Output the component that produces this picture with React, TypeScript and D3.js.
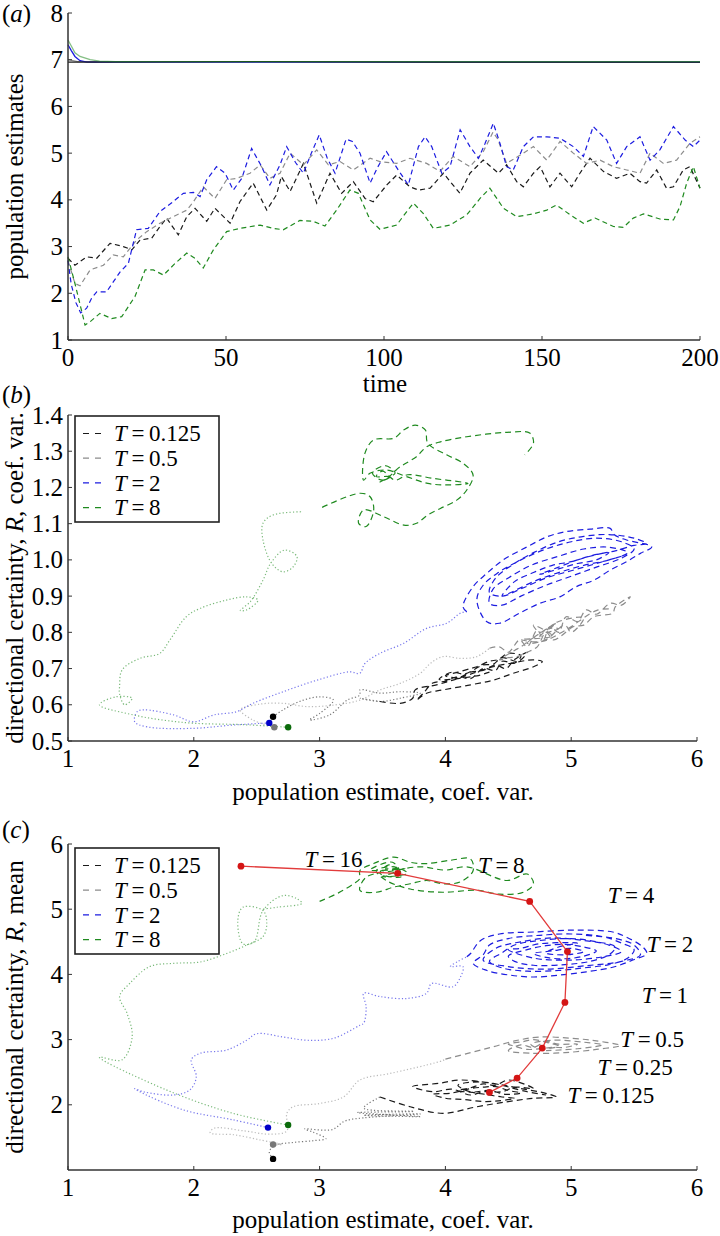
import React from 'react';
import * as d3 from 'd3';

type P = [number, number];

// ---- panel (a): population estimates vs time ----
const aTicksX = [0, 50, 100, 150, 200];
const aTicksY = [1, 2, 3, 4, 5, 6, 7, 8];

const aSolidBlack: P[] = [[0, 6.95], [60, 6.96], [120, 6.95], [200, 6.95]];
const aSolidGray: P[] = [[0, 7.0], [3, 6.96], [200, 6.95]];
const aSolidBlue: P[] = [[0, 7.32], [1, 7.2], [2.2, 7.07], [3.8, 6.98], [6, 6.95], [200, 6.95]];
const aSolidGreen: P[] = [[0, 7.42], [1, 7.3], [2.2, 7.15], [3.8, 7.07], [7, 7.0], [10, 6.97], [15, 6.96], [200, 6.96]];

const aBlack: P[] = [[0, 2.75], [2.2, 2.6], [5.9, 2.78], [9.1, 2.75], [13.3, 3.07], [17.5, 3.0], [20.2, 2.93], [22.8, 3.14], [26.5, 3.18], [29.1, 3.43], [31.2, 3.61], [34.9, 3.25], [37.6, 3.64], [40.2, 3.82], [43.9, 3.54], [46.5, 3.82], [51.3, 3.5], [54.4, 3.96], [58.6, 4.36], [62.9, 3.78], [66, 4.11], [67.5, 4.5], [70.3, 4.18], [74.5, 4.78], [78.7, 3.93], [82.9, 4.57], [86.6, 4.14], [90.3, 4.39], [94, 4.03], [96.6, 3.96], [100.9, 4.32], [104, 4.53], [108.2, 4.28], [110.9, 4.21], [114.6, 4.25], [118.8, 4.57], [124, 4.14], [127.2, 4.57], [131.4, 4.85], [136.2, 4.57], [138.8, 4.75], [142, 4.39], [144.1, 4.28], [147.3, 4.57], [149.4, 4.71], [152.5, 4.28], [155.7, 4.57], [159.4, 4.28], [162, 4.57], [165.2, 4.89], [169.4, 4.61], [173.6, 4.46], [177.8, 4.57], [181, 4.39], [183.1, 4.36], [186.3, 4.64], [189.4, 4.25], [191.6, 4.28], [194.7, 4.64], [196.8, 4.71], [200, 4.25]];
const aGray: P[] = [[0, 2.7], [2.2, 2.21], [3.8, 2.16], [7, 2.5], [11.2, 2.6], [14.3, 2.82], [17.5, 2.78], [21.7, 3.14], [24.9, 3.32], [29.1, 3.5], [33.3, 3.64], [37.6, 3.78], [39.7, 3.96], [42.8, 4.28], [46.5, 4.03], [50.2, 4.43], [53.4, 4.46], [57.6, 4.57], [60.8, 4.75], [63.9, 4.46], [67.1, 4.57], [70.3, 5.0], [74.5, 4.75], [78.7, 5.07], [82.4, 4.75], [86.1, 4.82], [90.3, 4.64], [95.6, 4.89], [98.7, 4.82], [104, 4.78], [108.2, 4.89], [113.5, 4.78], [117.7, 4.61], [121.9, 4.93], [127.2, 4.71], [131.4, 5.03], [134.5, 5.45], [136, 5.3], [138.8, 4.78], [144.1, 5.0], [147.3, 5.14], [151.5, 4.85], [155.7, 5.25], [159.9, 5.0], [164.1, 4.78], [168.4, 4.85], [172.6, 4.71], [176.8, 4.64], [181, 4.57], [184.2, 5.0], [188.4, 4.78], [192.6, 4.85], [196.8, 5.21], [200, 5.35]];
const aBlue: P[] = [[0, 2.7], [1, 2.2], [2.5, 1.8], [4, 1.58], [5.9, 1.68], [7.5, 1.9], [9.1, 2.03], [12.2, 2.03], [16.5, 2.46], [19.1, 2.64], [21.7, 3.36], [25.4, 3.39], [29.1, 3.75], [32.3, 3.91], [36.5, 4.14], [39.7, 4.16], [41.8, 4.07], [43.9, 4.43], [47, 4.71], [49.7, 4.57], [52.3, 4.21], [55, 4.46], [58.1, 5.1], [61.3, 4.71], [63.9, 4.32], [67.1, 4.75], [69.2, 5.14], [72, 4.8], [74.5, 4.57], [77, 5.0], [79.5, 5.39], [82, 4.9], [84.5, 4.57], [88, 5.3], [90, 5.25], [92.4, 5.0], [95.6, 4.36], [98, 4.7], [100.8, 5.03], [104.5, 4.64], [107.7, 4.32], [110.9, 5.14], [113, 5.35], [115.1, 5.14], [118.3, 4.57], [120.9, 4.71], [124.1, 5.5], [127.2, 5.14], [129.9, 4.89], [132, 5.21], [134.6, 5.64], [136.7, 5.21], [138.8, 4.71], [140.9, 4.64], [144.1, 5.14], [147.3, 5.35], [151.5, 5.35], [155.7, 5.32], [159.9, 5.14], [163.1, 4.93], [166.2, 5.57], [170.5, 5.28], [173.6, 4.78], [176.8, 5.14], [181, 5.35], [184.2, 4.85], [187.3, 5.07], [191.6, 5.57], [195.3, 5.28], [197.9, 5.14], [200, 5.28]];
const aGreen: P[] = [[0, 2.78], [2.2, 2.21], [5.4, 1.32], [7, 1.39], [10.1, 1.57], [13.8, 1.46], [17, 1.5], [21.2, 1.93], [24.4, 2.5], [27, 2.5], [30.2, 2.39], [33.9, 2.64], [37.6, 2.86], [40.2, 2.75], [42.8, 2.54], [46, 2.93], [50.2, 3.32], [54.4, 3.39], [60.8, 3.46], [65, 3.39], [68.1, 3.36], [73.4, 3.56], [77.6, 3.54], [81.3, 3.44], [85, 3.78], [89.2, 4.21], [91.9, 4.14], [95.6, 3.57], [98.7, 3.37], [104, 3.46], [107.2, 3.75], [109.3, 3.93], [112.4, 3.71], [115.6, 3.39], [120.9, 3.46], [126.2, 3.68], [130.4, 4.03], [133.5, 4.25], [137.8, 3.82], [142, 3.64], [147.3, 3.7], [151.5, 3.78], [154.6, 3.89], [158.9, 3.68], [163.1, 3.5], [166.8, 3.61], [172.6, 3.43], [175.7, 3.41], [178.9, 3.61], [182.1, 3.7], [187.3, 3.59], [191.6, 3.57], [193.7, 3.86], [195.8, 4.36], [197.9, 4.71], [200, 4.25]];

// ---- panel (b): coefficient of variation trajectories ----
const bTicksX = [1, 2, 3, 4, 5, 6];
const bTicksY = [0.5, 0.6, 0.7, 0.8, 0.9, 1.0, 1.1, 1.2, 1.3, 1.4];
const bStart: P[] = [[2.63, 0.567], [2.64, 0.538], [2.60, 0.55], [2.75, 0.538]]; // black, gray, blue, green

const bBlackDotted: P[] = [[2.63, 0.567], [2.71, 0.586], [2.84, 0.609], [3.0, 0.622], [3.11, 0.613], [3.0, 0.576], [2.92, 0.558], [3.08, 0.572], [3.22, 0.613], [3.32, 0.627], [3.32, 0.641], [3.48, 0.632], [3.64, 0.636], [3.8, 0.632], [3.64, 0.618], [3.48, 0.609], [3.32, 0.618], [3.48, 0.609]];
const bBlackDashed: P[] = [[3.48, 0.609], [3.64, 0.604], [3.74, 0.618], [3.76, 0.641], [3.93, 0.655], [4.06, 0.668], [4.22, 0.687], [4.38, 0.705], [4.51, 0.714], [4.7, 0.724], [4.77, 0.719], [4.7, 0.705], [4.54, 0.687], [4.38, 0.668], [4.2, 0.655], [3.98, 0.641], [3.85, 0.632], [3.77, 0.613], [3.82, 0.63], [3.9, 0.66], [4.0, 0.665], [4.1, 0.678], [4.2, 0.672], [4.3, 0.7], [4.4, 0.695], [4.45, 0.72], [4.55, 0.715], [4.6, 0.735], [4.5, 0.742], [4.42, 0.725], [4.35, 0.72], [4.25, 0.705], [4.2, 0.7], [4.1, 0.69], [4.0, 0.68], [4.1, 0.675], [4.2, 0.69], [4.3, 0.695], [4.4, 0.71], [4.48, 0.7], [4.55, 0.725], [4.65, 0.745], [4.58, 0.72], [4.45, 0.73], [4.38, 0.712], [4.3, 0.71], [4.15, 0.685], [4.05, 0.69], [3.95, 0.67], [4.25, 0.68], [4.35, 0.69]];
const bGrayDotted: P[] = [[2.64, 0.538], [2.47, 0.558], [2.37, 0.586], [2.53, 0.602], [2.71, 0.604], [2.9, 0.595], [3.11, 0.599], [3.32, 0.613], [3.48, 0.641], [3.64, 0.659], [3.8, 0.687], [3.88, 0.714], [3.98, 0.733], [4.12, 0.728], [4.25, 0.733], [4.35, 0.756]];
const bGrayDashed: P[] = [[4.35, 0.756], [4.43, 0.76], [4.5, 0.745], [4.59, 0.779], [4.65, 0.76], [4.73, 0.806], [4.78, 0.78], [4.83, 0.816], [4.9, 0.8], [4.96, 0.843], [5.05, 0.83], [5.12, 0.862], [5.2, 0.85], [5.31, 0.88], [5.4, 0.875], [5.47, 0.898], [5.35, 0.87], [5.33, 0.853], [5.18, 0.843], [5.1, 0.82], [5.02, 0.816], [4.92, 0.79], [4.86, 0.779], [4.8, 0.8], [4.73, 0.76], [4.65, 0.745], [4.57, 0.733], [4.5, 0.73], [4.43, 0.724], [4.55, 0.75], [4.6, 0.76], [4.7, 0.785], [4.75, 0.79], [4.82, 0.81], [4.9, 0.81], [4.8, 0.8], [4.88, 0.825], [4.65, 0.77], [4.8, 0.78], [4.95, 0.82], [5.0, 0.8], [5.1, 0.84], [4.9, 0.83], [4.75, 0.8], [4.7, 0.82], [4.85, 0.79], [4.6, 0.78], [4.77, 0.775], [4.95, 0.805], [5.2, 0.86], [5.3, 0.865]];
const bBlueDotted: P[] = [[2.6, 0.55], [2.31, 0.544], [2.0, 0.535], [1.63, 0.539], [1.53, 0.553], [1.55, 0.581], [1.6, 0.586], [1.84, 0.572], [2.0, 0.553], [2.16, 0.572], [2.34, 0.581], [2.47, 0.604], [2.71, 0.636], [2.98, 0.668], [3.24, 0.691], [3.32, 0.687], [3.36, 0.714], [3.48, 0.742], [3.67, 0.77], [3.85, 0.811], [4.01, 0.825], [4.12, 0.853], [4.17, 0.857]];
const bBlueDashed: P[] = [[4.17, 0.857], [4.14, 0.871], [4.22, 0.926], [4.33, 0.963], [4.46, 1.0], [4.65, 1.036], [4.81, 1.064], [4.96, 1.078], [5.15, 1.085], [5.31, 1.087], [5.34, 1.07], [5.44, 1.055], [5.64, 1.036], [5.55, 1.018], [5.44, 0.995], [5.31, 0.972], [5.18, 0.944], [5.04, 0.926], [4.91, 0.898], [4.75, 0.88], [4.59, 0.853], [4.43, 0.825], [4.33, 0.829], [4.25, 0.889],
  [4.3, 0.93], [4.42, 0.965], [4.6, 1.0], [4.8, 1.03], [5.0, 1.05], [5.2, 1.06], [5.4, 1.05], [5.5, 1.03], [5.4, 1.005], [5.2, 0.98], [5.0, 0.955], [4.8, 0.93], [4.6, 0.9], [4.45, 0.875], [4.35, 0.88],
  [4.38, 0.92], [4.5, 0.95], [4.68, 0.985], [4.9, 1.01], [5.1, 1.03], [5.3, 1.035], [5.45, 1.02], [5.3, 1.0], [5.1, 0.985], [4.9, 0.965], [4.7, 0.94], [4.52, 0.91], [4.45, 0.9],
  [4.55, 0.94], [4.7, 0.965], [4.85, 0.985], [5.0, 0.995], [5.15, 1.01], [5.3, 1.02], [5.2, 1.0], [5.05, 0.99], [4.9, 0.975], [4.75, 0.96], [4.9, 0.98], [5.05, 1.0], [5.2, 1.015], [5.35, 1.025],
  [5.5, 1.04], [5.6, 1.045], [5.5, 1.06], [5.3, 1.07], [5.1, 1.065], [4.9, 1.05], [4.7, 1.02], [4.55, 0.99], [4.4, 0.95], [4.35, 0.91], [4.45, 0.9], [4.6, 0.92], [4.8, 0.95], [5.0, 0.97], [5.2, 0.99], [5.4, 1.01]];
const bGreenDotted: P[] = [[2.75, 0.538], [2.4, 0.545], [2.0, 0.549], [1.75, 0.558], [1.52, 0.572], [1.25, 0.6], [1.38, 0.622], [1.51, 0.618], [1.45, 0.6], [1.41, 0.63], [1.41, 0.65], [1.43, 0.696], [1.57, 0.728], [1.73, 0.742], [1.81, 0.779], [1.94, 0.843], [2.05, 0.866], [2.26, 0.889], [2.42, 0.898], [2.51, 0.889], [2.42, 0.862], [2.37, 0.86], [2.45, 0.885], [2.55, 0.944], [2.61, 0.99], [2.72, 1.027], [2.82, 1.009], [2.79, 0.981], [2.71, 0.967], [2.62, 0.99], [2.55, 1.055], [2.55, 1.101], [2.63, 1.124], [2.87, 1.133]];
const bGreenDashed: P[] = [[3.02, 1.145], [3.32, 1.184], [3.4, 1.175], [3.43, 1.138], [3.37, 1.092], [3.31, 1.101], [3.35, 1.138], [3.51, 1.119], [3.67, 1.096], [3.77, 1.101], [3.86, 1.124], [3.96, 1.142], [4.09, 1.165], [4.17, 1.193], [4.22, 1.234], [4.14, 1.267], [4.01, 1.29], [3.86, 1.322], [3.84, 1.359], [3.76, 1.372], [3.67, 1.359], [3.59, 1.336], [3.43, 1.331], [3.36, 1.294], [3.35, 1.22], [3.4, 1.239], [3.53, 1.248], [3.69, 1.23], [3.86, 1.211], [4.01, 1.207], [4.18, 1.211], [3.9, 1.225], [3.7, 1.235], [3.6, 1.22], [3.5, 1.245], [3.45, 1.23], [3.55, 1.23], [3.48, 1.215], [3.6, 1.24], [3.52, 1.26], [3.42, 1.24], [3.5, 1.22], [3.64, 1.257], [3.77, 1.285], [3.85, 1.312], [3.96, 1.326], [4.17, 1.34], [4.49, 1.352], [4.67, 1.35], [4.7, 1.322], [4.63, 1.29]];

// ---- panel (c): mean trajectories ----
const cTicksX = [1, 2, 3, 4, 5, 6];
const cTicksY = [2, 3, 4, 5, 6];
const cStart: P[] = [[2.63, 1.17], [2.63, 1.39], [2.59, 1.65], [2.75, 1.69]];

const cBlackDotted: P[] = [[2.63, 1.17], [2.6, 1.28], [2.65, 1.38], [2.78, 1.42], [2.95, 1.45], [3.05, 1.48], [2.95, 1.58], [2.88, 1.63], [3.1, 1.62], [3.2, 1.75], [3.35, 1.8], [3.8, 1.86], [3.35, 1.84], [3.8, 1.82], [3.3, 1.88], [3.75, 1.9], [3.35, 1.95], [3.48, 2.12]];
const cBlackDashed: P[] = [[3.48, 2.12], [3.72, 1.97], [3.98, 1.87], [4.25, 1.97], [4.5, 2.05], [4.7, 2.1], [4.88, 2.12], [4.81, 2.17], [4.6, 2.25], [4.4, 2.32], [4.12, 2.38], [3.95, 2.33], [3.74, 2.28], [3.9, 2.2], [4.05, 2.24], [4.2, 2.15], [4.3, 2.2], [4.45, 2.2], [4.55, 2.27], [4.7, 2.25], [4.5, 2.38], [4.4, 2.3], [4.3, 2.32], [4.2, 2.26], [4.1, 2.22], [4.25, 2.18], [4.35, 2.15], [4.45, 2.12], [4.55, 2.1], [4.42, 2.06], [4.3, 2.05], [4.15, 2.08], [4.0, 2.1], [3.9, 2.16], [4.05, 2.18], [4.2, 2.25], [4.3, 2.27], [4.4, 2.28], [4.5, 2.22], [4.6, 2.18], [4.48, 2.16], [4.35, 2.22], [4.2, 2.2], [4.1, 2.3], [4.3, 2.35], [4.65, 2.2], [4.8, 2.15]];
const cGrayDotted: P[] = [[2.63, 1.39], [2.7, 1.39], [2.53, 1.46], [2.32, 1.54], [2.13, 1.57], [2.16, 1.64], [2.4, 1.6], [2.6, 1.55], [2.74, 1.6], [2.74, 1.87], [2.79, 1.97], [3.0, 2.02], [3.19, 2.12], [3.32, 2.38], [3.56, 2.48], [3.85, 2.61], [3.98, 2.68], [4.0, 2.7]];
const cGrayDashed: P[] = [[4.0, 2.7], [4.2, 2.8], [4.38, 2.89], [4.55, 2.98], [4.75, 3.04], [5.0, 3.02], [5.2, 2.98], [5.39, 2.91], [5.2, 2.85], [4.95, 2.8], [4.7, 2.79], [4.5, 2.83], [4.6, 2.92], [4.7, 2.88], [4.8, 2.97], [4.9, 2.93], [5.05, 2.93], [4.95, 2.88], [4.85, 2.88], [4.65, 2.85], [4.55, 2.9], [4.5, 2.93], [4.62, 2.97], [4.7, 3.0], [4.82, 2.95], [4.9, 2.9], [4.75, 2.86], [4.68, 2.93], [4.85, 2.99], [5.1, 2.96], [5.25, 2.92], [5.05, 2.86], [4.8, 2.83]];
const cBlueDotted: P[] = [[2.59, 1.65], [2.31, 1.77], [1.92, 1.92], [1.57, 2.2], [1.53, 2.25], [1.6, 2.2], [1.84, 2.15], [1.97, 2.23], [2.02, 2.43], [1.98, 2.69], [2.05, 2.79], [2.26, 2.84], [2.42, 2.99], [2.5, 3.09], [2.71, 3.04], [2.9, 2.99], [3.11, 3.02], [3.32, 3.22], [3.35, 3.25], [3.37, 3.5], [3.35, 3.71], [3.48, 3.66], [3.69, 3.63], [3.85, 3.71], [3.89, 3.86], [4.06, 3.81], [4.12, 3.96], [4.14, 4.12], [4.04, 4.12], [4.1, 4.2], [4.17, 4.27]];
const cBlueDashed: P[] = [[4.17, 4.27], [4.2, 4.32], [4.28, 4.52], [4.43, 4.62], [4.7, 4.65], [5.04, 4.68], [5.33, 4.65], [5.44, 4.57], [5.57, 4.42], [5.6, 4.32], [5.49, 4.22], [5.33, 4.11], [5.12, 4.04], [4.91, 3.99], [4.7, 3.96], [4.51, 3.99], [4.33, 4.06], [4.22, 4.17],
  [4.3, 4.3], [4.35, 4.45], [4.5, 4.55], [4.75, 4.6], [5.0, 4.62], [5.25, 4.58], [5.4, 4.48], [5.5, 4.38], [5.45, 4.25], [5.3, 4.15], [5.1, 4.1], [4.9, 4.06], [4.65, 4.05], [4.45, 4.1], [4.35, 4.2],
  [4.45, 4.33], [4.55, 4.45], [4.75, 4.52], [5.0, 4.55], [5.2, 4.5], [5.35, 4.42], [5.3, 4.3], [5.15, 4.2], [4.95, 4.15], [4.7, 4.14], [4.55, 4.2], [4.5, 4.28],
  [4.65, 4.38], [4.8, 4.44], [4.95, 4.46], [5.1, 4.42], [5.2, 4.36], [5.1, 4.28], [4.95, 4.24], [4.8, 4.26], [4.7, 4.32], [4.85, 4.36], [5.0, 4.4], [5.1, 4.35], [4.95, 4.3], [4.8, 4.33], [4.9, 4.42], [5.05, 4.48], [4.75, 4.47], [4.6, 4.4], [4.5, 4.38], [4.7, 4.25], [5.0, 4.22], [5.25, 4.27], [5.4, 4.35], [5.3, 4.45], [5.1, 4.52], [4.85, 4.56], [4.6, 4.5], [4.4, 4.4], [4.3, 4.22], [4.5, 4.12], [4.8, 4.08], [5.1, 4.13], [5.4, 4.2], [5.55, 4.3], [5.5, 4.45], [5.35, 4.55], [5.1, 4.6]];
const cGreenDotted: P[] = [[2.75, 1.69], [2.31, 1.87], [1.78, 2.23], [1.25, 2.73], [1.43, 2.69], [1.51, 3.04], [1.47, 3.4], [1.41, 3.66], [1.49, 3.86], [1.65, 4.12], [1.84, 4.17], [2.05, 4.19], [2.26, 4.32], [2.42, 4.45], [2.55, 4.58], [2.58, 4.78], [2.55, 4.98], [2.39, 5.03], [2.35, 4.83], [2.39, 4.47], [2.48, 4.5], [2.55, 4.98], [2.71, 5.21], [2.82, 5.16], [2.86, 5.09], [2.66, 5.03], [2.55, 5.0]];
const cGreenDashed: P[] = [[3.0, 5.12], [3.15, 5.25], [3.27, 5.39], [3.32, 5.47], [3.32, 5.59], [3.43, 5.7], [3.59, 5.8], [3.72, 5.72], [3.85, 5.7], [4.04, 5.75], [4.2, 5.77], [4.22, 5.59], [4.12, 5.42], [3.98, 5.39], [3.85, 5.44], [3.72, 5.39], [3.59, 5.34], [3.45, 5.26], [3.32, 5.29], [3.37, 5.49], [3.59, 5.59], [3.8, 5.65], [4.0, 5.6], [4.17, 5.65], [4.49, 5.44], [4.65, 5.54], [4.7, 5.39], [4.62, 5.26], [4.43, 5.23], [4.25, 5.29], [3.98, 5.26], [3.72, 5.31], [3.53, 5.44], [3.45, 5.59], [3.59, 5.65], [3.7, 5.55], [3.5, 5.5], [3.62, 5.6], [3.55, 5.68], [3.48, 5.55], [3.65, 5.5], [3.58, 5.72], [3.4, 5.6], [3.68, 5.62], [3.52, 5.62]];

// red line of cluster means, one point per T
const redT = ['16', '8', '4', '2', '1', '0.5', '0.25', '0.125'];
const redPts: P[] = [[2.375, 5.66], [3.62, 5.55], [4.67, 5.12], [4.97, 4.35], [4.95, 3.57], [4.77, 2.87], [4.57, 2.41], [4.35, 2.19]];
const redLabelPos: P[] = [[2.88, 5.64], [4.26, 5.55], [5.29, 5.1], [5.6, 4.34], [5.56, 3.56], [5.39, 2.88], [5.21, 2.45], [4.97, 2.03]];

const legendT = ['0.125', '0.5', '2', '8'];

const FONT = '"Liberation Serif", "Times New Roman", "DejaVu Serif", serif';
const COL = ['#1a1a1a', '#8c8c8c', '#1c1ce0', '#1f8a1f'];
const DOT = ['#000000', '#777777', '#0000c8', '#0b6b0b'];

type Frame = { l: number; r: number; t: number; b: number };

const Tlab = ({ v }: { v: string }) => (
  <>
    <tspan fontStyle="italic">T</tspan>
    {'\u2009=\u2009' + v}
  </>
);

function Axes({ f, x, y, xt, yt, fy }: { f: Frame; x: any; y: any; xt: number[]; yt: number[]; fy: (v: number) => string }) {
  return (
    <g fontFamily={FONT} fontSize={25} fill="#000">
      {xt.map(v => (
        <g key={'x' + v}>
          <line x1={x(v)} x2={x(v)} y1={f.b} y2={f.b - 4} stroke="#333" />
          <text x={x(v)} y={f.b + 26} textAnchor="middle">{v}</text>
        </g>
      ))}
      {yt.map(v => (
        <g key={'y' + v}>
          <line x1={f.l} x2={f.l + 4} y1={y(v)} y2={y(v)} stroke="#333" />
          <text x={f.l - 5} y={y(v)} dy="0.34em" textAnchor="end">{fy(v)}</text>
        </g>
      ))}
      <line x1={f.l} x2={f.l} y1={f.t} y2={f.b} stroke="#333" strokeWidth={1.5} />
      <line x1={f.l} x2={f.r} y1={f.b} y2={f.b} stroke="#333" strokeWidth={1.5} />
    </g>
  );
}

function Legend({ x0, y0 }: { x0: number; y0: number }) {
  return (
    <g fontFamily={FONT} fontSize={23}>
      <rect x={x0} y={y0} width={144} height={106} fill="#fff" stroke="#222" strokeWidth={1.6} />
      {legendT.map((t, i) => (
        <g key={t}>
          <line x1={x0 + 8} x2={x0 + 28} y1={y0 + 17.5 + i * 24.7} y2={y0 + 17.5 + i * 24.7}
            stroke={COL[i]} strokeWidth={1.2} strokeDasharray="6,6" />
          <text x={x0 + 39} y={y0 + 17.5 + i * 24.7} dy="0.34em"><Tlab v={t} /></text>
        </g>
      ))}
    </g>
  );
}

export default function App() {
  // frames (pixel boxes of the three plot areas)
  const A: Frame = { l: 68, r: 700, t: 13, b: 340 };
  const B: Frame = { l: 68, r: 697, t: 415, b: 741 };
  const C: Frame = { l: 68, r: 697, t: 844, b: 1170 };

  const ax = d3.scaleLinear().domain([0, 200]).range([A.l, A.r]);
  const ay = d3.scaleLinear().domain([1, 8]).range([A.b, A.t]);
  const bx = d3.scaleLinear().domain([1, 6]).range([B.l, B.r]);
  const by = d3.scaleLinear().domain([0.5, 1.4]).range([B.b, B.t]);
  const cx = d3.scaleLinear().domain([1, 6]).range([C.l, C.r]);
  const cy = d3.scaleLinear().domain([1, 6]).range([C.b, C.t]);

  const aLine = d3.line<P>().x(d => ax(d[0])).y(d => ay(d[1]));
  const bLine = d3.line<P>().x(d => bx(d[0])).y(d => by(d[1])).curve(d3.curveCatmullRom.alpha(0.5));
  const cLine = d3.line<P>().x(d => cx(d[0])).y(d => cy(d[1])).curve(d3.curveCatmullRom.alpha(0.5));
  const cRed = d3.line<P>().x(d => cx(d[0])).y(d => cy(d[1]));

  // draw order of the flat lines near 7: dark black, then a thin green on top
  const aSolid: [P[], number, number][] = [[aSolidGray, 1, 1], [aSolidBlue, 2, 1], [aSolidBlack, 0, 1], [aSolidGreen, 3, 0.55]];
  const aDashed = [aBlack, aGray, aBlue, aGreen];
  const bDotted = [bBlackDotted, bGrayDotted, bBlueDotted, bGreenDotted];
  const bDashed = [bBlackDashed, bGrayDashed, bBlueDashed, bGreenDashed];
  const cDotted = [cBlackDotted, cGrayDotted, cBlueDotted, cGreenDotted];
  const cDashed = [cBlackDashed, cGrayDashed, cBlueDashed, cGreenDashed];

  return (
    <svg width={720} height={1236} style={{ position: 'absolute', left: 0, top: 0 }}>
      <rect width={720} height={1236} fill="#fff" />

      {/* (a) */}
      <g fill="none">
        {aDashed.map((s, i) => (
          <path key={'ad' + i} d={aLine(s) ?? ''} stroke={COL[i]} strokeWidth={1.2} strokeDasharray="5,3.5" />
        ))}
        {aSolid.map(([s, c, o], i) => (
          <path key={'as' + i} d={aLine(s) ?? ''} stroke={COL[c]} strokeWidth={1.3} strokeOpacity={o} />
        ))}
      </g>
      <Axes f={A} x={ax} y={ay} xt={aTicksX} yt={aTicksY} fy={v => String(v)} />
      <g fontFamily={FONT} fontSize={25}>
        <text x={2} y={22}>(<tspan fontStyle="italic">a</tspan>)</text>
        <text x={385} y={392} textAnchor="middle">time</text>
        <text transform={`translate(23,${(A.t + A.b) / 2}) rotate(-90)`} textAnchor="middle">population estimates</text>
      </g>

      {/* (b) */}
      <g fill="none">
        {bDotted.map((s, i) => (
          <path key={'bt' + i} d={bLine(s) ?? ''} stroke={COL[i]} strokeOpacity={0.6} strokeWidth={1.2} strokeDasharray="1.2,2.2" />
        ))}
        {bDashed.map((s, i) => (
          <path key={'bd' + i} d={bLine(s) ?? ''} stroke={COL[i]} strokeWidth={1.2} strokeDasharray="6,4" />
        ))}
      </g>
      {bStart.map((p, i) => (
        <circle key={'bs' + i} cx={bx(p[0])} cy={by(p[1])} r={3.2} fill={DOT[i]} />
      ))}
      <Axes f={B} x={bx} y={by} xt={bTicksX} yt={bTicksY} fy={v => v.toFixed(1)} />
      <Legend x0={75} y0={416} />
      <g fontFamily={FONT} fontSize={25}>
        <text x={2} y={403}>(<tspan fontStyle="italic">b</tspan>)</text>
        <text x={383} y={800} textAnchor="middle">population estimate, coef. var.</text>
        <text transform={`translate(23,${(B.t + B.b) / 2}) rotate(-90)`} textAnchor="middle">
          directional certainty, <tspan fontStyle="italic">R</tspan>, coef. var.
        </text>
      </g>

      {/* (c) */}
      <g fill="none">
        {cDotted.map((s, i) => (
          <path key={'ct' + i} d={cLine(s) ?? ''} stroke={COL[i]} strokeOpacity={0.6} strokeWidth={1.2} strokeDasharray="1.2,2.2" />
        ))}
        {cDashed.map((s, i) => (
          <path key={'cd' + i} d={cLine(s) ?? ''} stroke={COL[i]} strokeWidth={1.2} strokeDasharray="6,4" />
        ))}
        <path d={cRed(redPts) ?? ''} stroke="#e23b3b" strokeWidth={1.3} />
      </g>
      {cStart.map((p, i) => (
        <circle key={'cs' + i} cx={cx(p[0])} cy={cy(p[1])} r={3.2} fill={DOT[i]} />
      ))}
      {redPts.map((p, i) => (
        <circle key={'rp' + i} cx={cx(p[0])} cy={cy(p[1])} r={3.4} fill="#d41515" />
      ))}
      <g fontFamily={FONT} fontSize={23}>
        {redT.map((t, i) => (
          <text key={'rl' + t} x={cx(redLabelPos[i][0])} y={cy(redLabelPos[i][1])}><Tlab v={t} /></text>
        ))}
      </g>
      <Axes f={C} x={cx} y={cy} xt={cTicksX} yt={cTicksY} fy={v => String(v)} />
      <Legend x0={75} y0={848} />
      <g fontFamily={FONT} fontSize={25}>
        <text x={2} y={838}>(<tspan fontStyle="italic">c</tspan>)</text>
        <text x={383} y={1228} textAnchor="middle">population estimate, coef. var.</text>
        <text transform={`translate(23,${(C.t + C.b) / 2}) rotate(-90)`} textAnchor="middle">
          directional certainty, <tspan fontStyle="italic">R</tspan>, mean
        </text>
      </g>
    </svg>
  );
}
